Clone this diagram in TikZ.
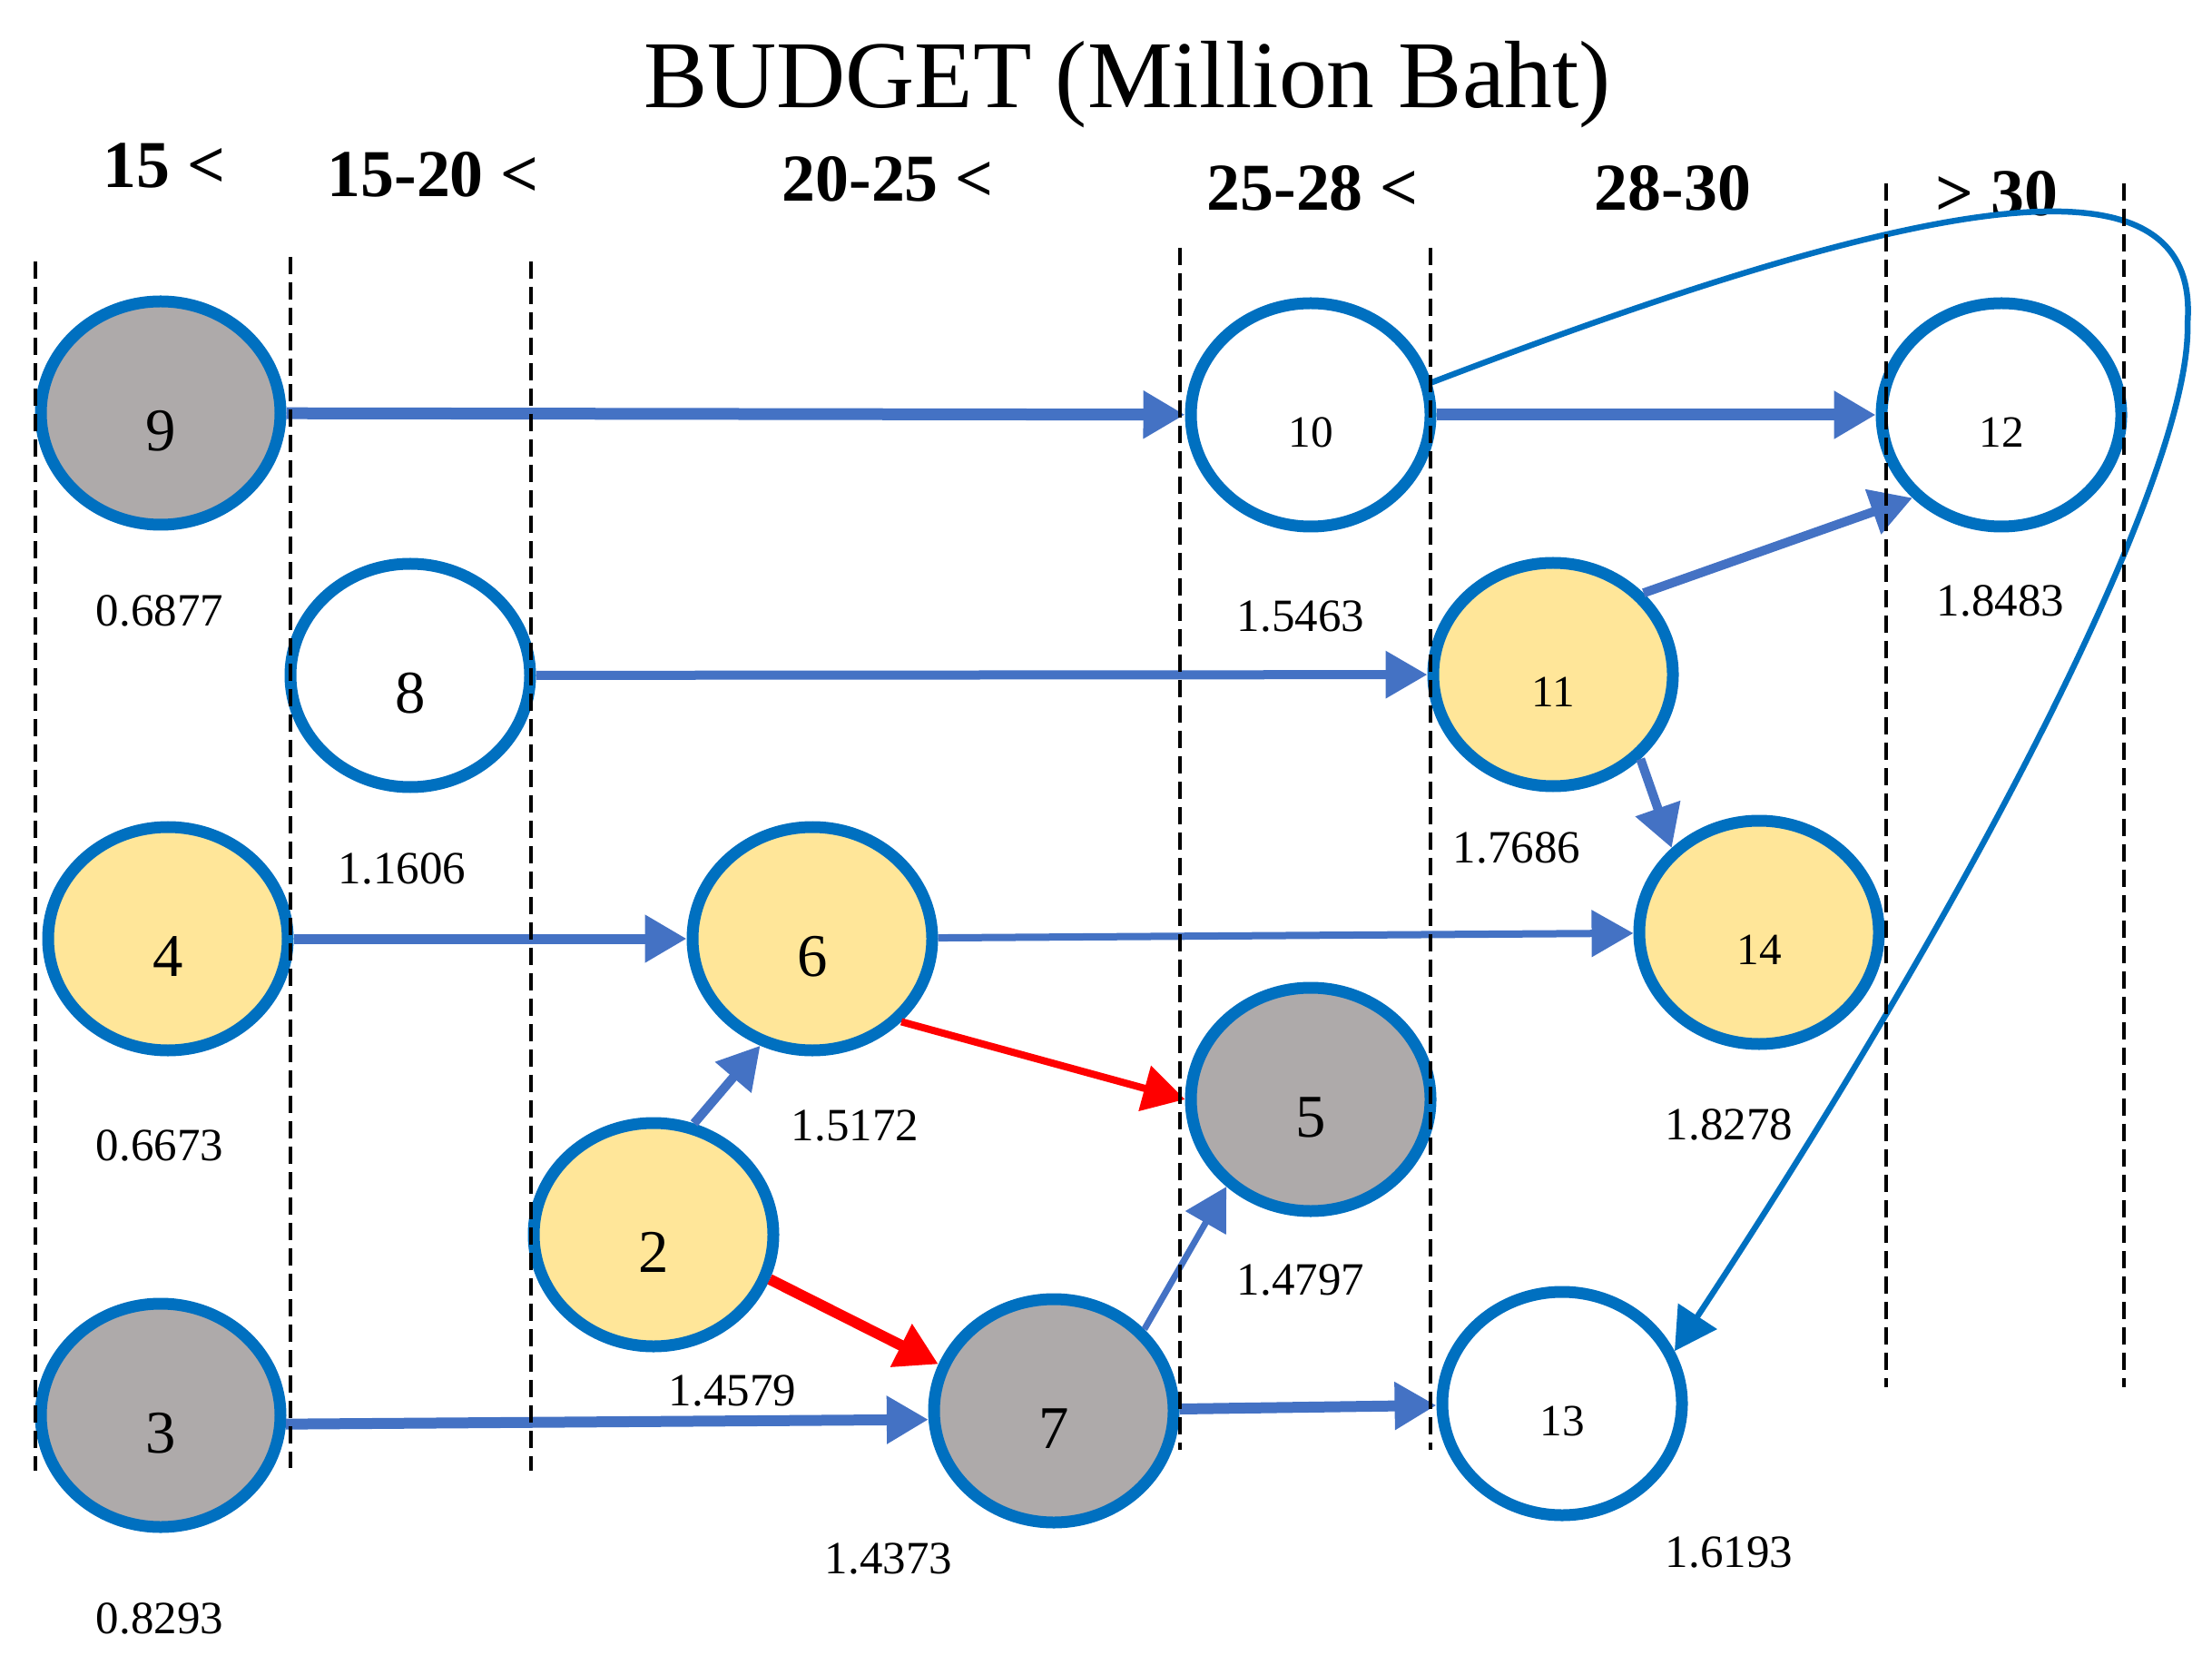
\documentclass[tikz,border=0pt]{standalone}
\usepackage{fontspec}
\setmainfont{Liberation Serif}
\usetikzlibrary{arrows.meta, shapes.geometric}
\definecolor{ringblue}{HTML}{0070C0}
\definecolor{arrowblue}{HTML}{4472C4}
\definecolor{nodegray}{HTML}{AEAAAA}
\definecolor{nodeyellow}{HTML}{FFE699}
\definecolor{linkred}{HTML}{FF0000}

\begin{document}
\begin{tikzpicture}[budget/.style={ellipse, draw=ringblue, line width=0.13cm, fill=white, minimum width=2.64cm, minimum height=2.46cm, inner sep=0pt, text height=0.83cm, text depth=0pt, font=\fontsize{19pt}{19pt}\selectfont},
    small/.style={text height=0.71cm, font=\fontsize{14pt}{14pt}\selectfont},
    val/.style={inner sep=0pt, font=\fontsize{14.5pt}{14.5pt}\selectfont},
    head/.style={anchor=base, inner sep=0pt, font=\bfseries\fontsize{21pt}{21pt}\selectfont},
    link/.style={draw=arrowblue, line width=0.12cm, -{Triangle[length=0.46cm, width=0.5cm]}},
    divider/.style={line width=0.045cm, dash pattern=on 0.19cm off 0.09cm}]
        \useasboundingbox (0, 0) rectangle (24.37, -18.34);
        \node[anchor=base, inner sep=0pt, font=\fontsize{30pt}{30pt}\selectfont] (title) at (12.42, -1.19) {BUDGET (Million Baht)};
        \node[head] (h1) at (1.81, -2.07) {15 <};
        \node[head] (h2) at (4.77, -2.17) {15-20 <};
        \node[head] (h3) at (9.78, -2.22) {20-25 <};
        \node[head] (h4) at (14.46, -2.32) {25-28 <};
        \node[head] (h5) at (18.43, -2.32) {28-30};
        \node[head] (h6) at (22.00, -2.38) {> 30};
        % projects
        \node[budget, fill=nodegray] (9) at (1.77, -4.55) {9};
        \node[budget] (8) at (4.52, -7.44) {8};
        \node[budget, fill=nodeyellow] (4) at (1.85, -10.34) {4};
        \node[budget, fill=nodegray] (3) at (1.77, -15.59) {3};
        \node[budget, fill=nodeyellow] (6) at (8.95, -10.34) {6};
        \node[budget, fill=nodeyellow] (2) at (7.20, -13.60) {2};
        \node[budget, fill=nodegray] (7) at (11.61, -15.54) {7};
        \node[budget, fill=nodegray] (5) at (14.44, -12.11) {5};
        \node[budget, small] (10) at (14.44, -4.57) {10};
        \node[budget, small, fill=nodeyellow] (11) at (17.11, -7.43) {11};
        \node[budget, small] (12) at (22.05, -4.57) {12};
        \node[budget, small, fill=nodeyellow] (14) at (19.38, -10.27) {14};
        \node[budget, small] (13) at (17.21, -15.46) {13};
        % values
        \node[val] (v9) at (1.76, -6.73) {0.6877};
        \node[val] (v8) at (4.43, -9.57) {1.1606};
        \node[val] (v4) at (1.76, -12.62) {0.6673};
        \node[val] (v3) at (1.76, -17.83) {0.8293};
        \node[val] (v6) at (9.42, -12.40) {1.5172};
        \node[val] (v2) at (8.07, -15.32) {1.4579};
        \node[val] (v7) at (9.79, -17.17) {1.4373};
        \node[val] (v5) at (14.33, -14.10) {1.4797};
        \node[val] (v10) at (14.33, -6.79) {1.5463};
        \node[val] (v11) at (16.71, -9.34) {1.7686};
        \node[val] (v12) at (22.04, -6.62) {1.8483};
        \node[val] (v14) at (19.05, -12.39) {1.8278};
        \node[val] (v13) at (19.05, -17.10) {1.6193};
        % links
        \draw[link, line width=0.13cm] (9) -- (10);
        \draw[link, line width=0.13cm] (10) -- (12);
        \draw[link, line width=0.1cm] (8) -- (11);
        \draw[link, line width=0.1cm] (11.42) -- (12.223);
        \draw[link, line width=0.1cm] (11.-44) -- (14.136);
        \draw[link, line width=0.11cm] (4) -- (6);
        \draw[link, line width=0.08cm] (6) -- (14);
        \draw[link, draw=linkred, line width=0.08cm] (6.-43) -- (5.180);
        \draw[link, line width=0.1cm] (2.70) -- (6.244);
        \draw[link, draw=linkred, line width=0.12cm] (2.-21) -- (7.158);
        \draw[link, line width=0.12cm] (3.-4) -- (7.184);
        \draw[link, line width=0.07cm] (7.42) -- (5.226);
        \draw[link, line width=0.12cm] (7) -- (13);
        \coordinate (loop) at (24.10, -3.56);
        \draw[link, draw=ringblue, line width=0.065cm] (10.15) .. controls (21.3, -2.1) and (24.25, -1.6) .. (loop) .. controls (24.15, -5.2) and (21.8, -9.8) .. (13.25);
        % budget bands
        \draw[divider] (0.39, -2.88) -- (0.39, -16.20);
        \draw[divider] (3.20, -2.83) -- (3.20, -16.17);
        \draw[divider] (5.85, -2.88) -- (5.85, -16.20);
        \draw[divider] (13.00, -2.73) -- (13.00, -15.97);
        \draw[divider] (15.76, -2.73) -- (15.76, -15.97);
        \draw[divider] (20.78, -2.02) -- (20.78, -15.28);
        \draw[divider] (23.40, -2.02) -- (23.40, -15.28);
    \end{tikzpicture}
\end{document}
